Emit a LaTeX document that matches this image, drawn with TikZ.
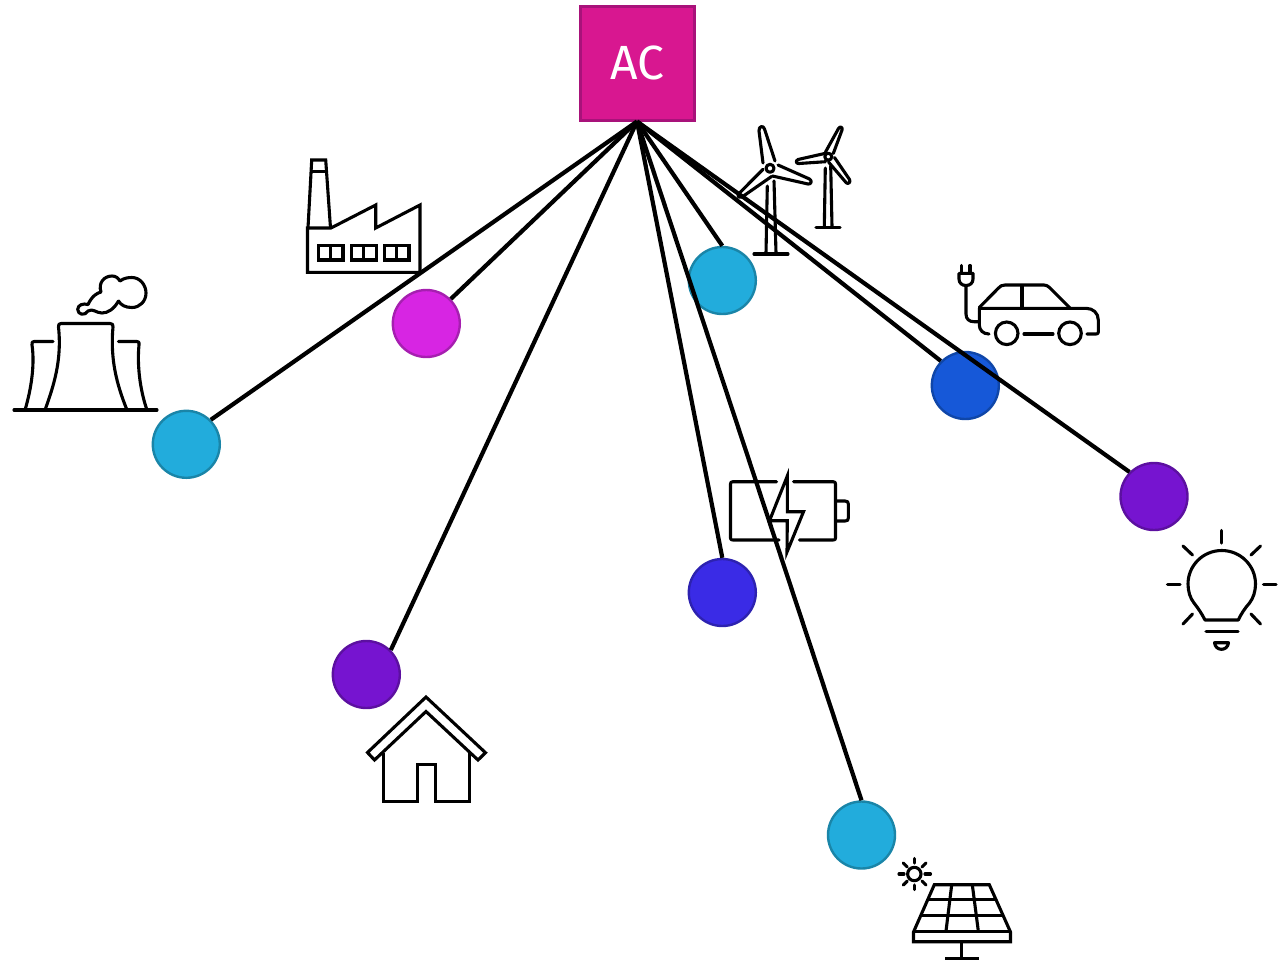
\documentclass[tikz,border=0pt]{standalone}
\usepackage{fontspec}
\setmainfont{Fira Sans}
\definecolor{cyanf}{HTML}{22ACDC}\definecolor{cyand}{HTML}{1A85A8}
\definecolor{magf}{HTML}{D725E3}\definecolor{magd}{HTML}{A61FB0}
\definecolor{bluef}{HTML}{1658D8}\definecolor{blued}{HTML}{0F46A8}
\definecolor{purf}{HTML}{7614D0}\definecolor{purd}{HTML}{5C10A0}
\definecolor{indf}{HTML}{3A2BE6}\definecolor{indd}{HTML}{2D22B0}
\definecolor{acf}{HTML}{D81790}\definecolor{acd}{HTML}{A8127A}
\tikzset{
 icon/.style={draw=black,line width=3.1pt,line join=round,line cap=round,fill=none},
 iconm/.style={draw=black,line width=3.1pt,line join=miter,line cap=butt,fill=none},
 link/.style={draw=black,line width=4.2pt},
 dot/.style={circle,minimum size=67pt,inner sep=0pt,line width=2.4pt},
 acbox/.style={rectangle,minimum size=114pt,inner sep=0pt,line width=3pt,fill=acf,draw=acd,text=white,font=\fontsize{48}{48}\selectfont}
}
\begin{document}
\begin{tikzpicture}[x=1pt,y=-1pt]
\useasboundingbox (0,0) rectangle (1281,962);
% cooling towers
\draw[icon] (14,410) -- (157,410);
\draw[icon] (45,410) .. controls (54,385) and (62,360) .. (58.5,327) .. controls (58.3,324.5) and (59,323.5) .. (61,323.5) -- (110,323.5) .. controls (112.5,323.5) and (113.2,324.5) .. (113,327) .. controls (110,360) and (117,385) .. (127,410);
\draw[icon] (25,410) .. controls (31,390) and (35,365) .. (32,345) .. controls (31.7,342.5) and (32,341.5) .. (34,341.5) -- (53,341.5);
\draw[icon] (118.5,341.5) -- (137,341.5) .. controls (139,341.5) and (139.5,342.5) .. (139,345) .. controls (137,365) and (140,390) .. (147,410);
\draw[icon] (88,304.5) .. controls (92,296) and (97,293) .. (101,292) .. controls (98,283) and (104,276) .. (112,276) .. controls (116,276) and (118,278) .. (120,281) .. controls (124,278) and (128,277.5) .. (132,277.5) .. controls (140,277.5) and (146,285) .. (146,293) .. controls (146,301) and (140,307.5) .. (132,307.5) .. controls (125,307.5) and (121,305) .. (118.5,301);
\draw[icon] (118.5,301) .. controls (114,309) and (108,313) .. (102,313) .. controls (96,313) and (93,308) .. (88,311) .. controls (85,316) and (78,315) .. (77.7,309.5) .. controls (77.7,305) and (83,303) .. (88,304.5);
% factory
\draw[iconm] (307.5,272.3) -- (420,272.3) -- (420,205) -- (375.7,228) -- (375.7,205) -- (331,228) -- (307.5,228) -- cycle;
\draw[iconm] (308,228) -- (311.7,160) -- (325.7,160) -- (330.5,228);
\draw[iconm] (311,171.7) -- (326.5,171.7);
\foreach \wx in {318.5,351.7,384.5}{
 \draw[iconm] (\wx,245.5) rectangle ++(24.5,14.5);
 \draw[iconm] (\wx+12.2,245.5) -- ++(0,14.5);
}
% big turbine
\draw[icon] (770,168.3) circle[radius=4];
\draw[icon] (763,163) -- (759,131) .. controls (758.5,126) and (763.5,125) .. (764.5,129) -- (775,161);
\draw[icon] (778,165) -- (809.5,179) .. controls (812.5,181) and (811,184.5) .. (808,184) -- (772.5,176);
\draw[icon] (763,169.3) -- (738.5,194) .. controls (737,197) and (740,198.5) .. (742,197) -- (771.5,176.5);
\draw[icon] (767.3,186) -- (766,253);
\draw[icon] (774,181) -- (776,253);
\draw[icon] (754,254) -- (788,254);
% small turbine
\draw[icon] (828.3,156.7) circle[radius=3.5];
\draw[icon] (825.5,152) -- (838.5,128.5) .. controls (840,126) and (843,127) .. (842,130) -- (833.3,153.5);
\draw[icon] (825.5,153.3) -- (798,159.5) .. controls (795,161) and (796.5,164) .. (799,163.5) -- (825.5,161.7);
\draw[icon] (834.5,157.5) -- (849.5,179.5) .. controls (851,182) and (848,185) .. (846,182.5) -- (828.5,162);
\draw[icon] (825.3,168) -- (824.3,226.5);
\draw[icon] (830.7,166) -- (832,226.5);
\draw[icon] (816,227.3) -- (840,227.3);
% car
\draw[icon] (961.7,265.5) -- (961.7,273.3);
\draw[icon] (970,265.5) -- (970,273.3);
\draw[icon] (959,273.3) -- (973,273.3) -- (973,279) .. controls (973,283) and (970,285.5) .. (966,285.5) .. controls (962,285.5) and (959,283) .. (959,279) -- cycle;
\draw[icon] (966,285.5) -- (966,314) .. controls (966,319) and (969,321.7) .. (974,321.7) -- (979.3,321.7);
\draw[icon] (989,334) .. controls (983,334) and (979.3,330) .. (979.3,325) -- (979.3,308.3) -- (1086,308.3) .. controls (1093,308.3) and (1098.3,313) .. (1098.3,320) -- (1098.3,332) .. controls (1098.3,333.5) and (1097.5,334) .. (1096,334) -- (1087,334);
\draw[icon] (1024,334) -- (1053,334);
\draw[icon] (1006.7,333.3) circle[radius=11.3];
\draw[icon] (1070,333.3) circle[radius=11.3];
\draw[icon] (979.3,307.5) -- (998,288.5) .. controls (1000,286) and (1002,285) .. (1005,285) -- (1044,285) .. controls (1046,285) and (1048,286) .. (1049.5,287.5) -- (1070,308);
\draw[icon] (1022,285.5) -- (1022,308);
% battery
\draw[icon] (776.5,481.7) -- (733,481.7) .. controls (731,481.7) and (730.5,482.5) .. (730.5,484) -- (730.5,538) .. controls (730.5,539.5) and (731,540) .. (733,540) -- (779,540);
\draw[icon] (793.5,481.7) -- (833,481.7) .. controls (835,481.7) and (835.5,482.5) .. (835.5,484) -- (835.5,538) .. controls (835.5,539.5) and (835,540) .. (833,540) -- (799.5,540);
\draw[icon] (836.7,501) -- (845,501) .. controls (847.5,501) and (848.3,502) .. (848.3,504) -- (848.3,518) .. controls (848.3,520) and (847.5,521) .. (845,521) -- (836.7,521);
\draw[iconm] (787.3,476) -- (787.3,511.7) -- (803.5,511.7) -- (787,552) -- (787.3,520.7) -- (769.5,520.7) -- cycle;
% bulb
\draw[icon] (1194,603) .. controls (1190,598) and (1188,591) .. (1188,584) .. controls (1188,565.4) and (1203.1,550.5) .. (1221.7,550.5) .. controls (1240.3,550.5) and (1255.5,565.4) .. (1255.5,584) .. controls (1255.5,591) and (1253.4,598) .. (1249.5,603) .. controls (1245,608) and (1241,614) .. (1238.3,620) -- (1205,620) .. controls (1202,614) and (1198,608) .. (1194,603) -- cycle;
\draw[icon] (1221.7,530.5) -- (1221.7,543);
\draw[icon] (1167.5,584.3) -- (1180,584.3);
\draw[icon] (1263.5,584.3) -- (1276,584.3);
\draw[icon] (1183,546) -- (1192.5,555);
\draw[icon] (1260.5,546) -- (1251,555);
\draw[icon] (1183,624) -- (1192.5,614);
\draw[icon] (1260.5,624) -- (1251,614);
\draw[icon] (1206,631.7) -- (1238,631.7);
\draw[icon] (1214.5,642.7) -- (1228.5,642.7) .. controls (1228,647) and (1225,649.3) .. (1221.5,649.3) .. controls (1218,649.3) and (1215,647) .. (1214.5,642.7) -- cycle;
% solar
\draw[icon] (914.3,874) circle[radius=6.7];
\draw[icon] (914.3,858.5) -- (914.3,863);
\draw[icon] (914.3,885) -- (914.3,889.5);
\draw[icon] (899,874) -- (904,874);
\draw[icon] (925,874) -- (930.5,874);
\draw[icon] (903.3,863) -- (907.3,867);
\draw[icon] (926,863) -- (922,867);
\draw[icon] (903.3,885) -- (907.3,881);
\draw[icon] (926,885) -- (922,881);
\draw[iconm] (934.3,884.7) -- (989.3,884.7) -- (1010.5,932) -- (1010.5,941.7) -- (913.5,941.7) -- (913.5,932) -- cycle;
\draw[iconm] (913.5,931.5) -- (1010.5,931.5);
\draw[iconm] (927.7,899.3) -- (996,899.3);
\draw[iconm] (920.7,915.7) -- (1003.3,915.7);
\draw[iconm] (951.7,884.7) -- (946,931);
\draw[iconm] (972.3,884.7) -- (978.3,931);
\draw[iconm] (961.7,941.7) -- (961.7,958.5);
\draw[iconm] (945,958.5) -- (979.3,958.5);
% house
\draw[iconm] (426,697) -- (485.5,752.7) -- (478,760) -- (426,711.5) -- (374.5,760) -- (367.5,752.5) -- cycle;
\draw[iconm] (383.5,753) -- (383.5,801.5) -- (417.7,801.5) -- (417.7,764.5) -- (435.5,764.5) -- (435.5,801.5) -- (469.5,801.5) -- (469.5,752);
% hub and nodes
\node[acbox] (ac) at (637,63) {AC};
\node[dot,fill=cyanf,draw=cyand] (n1) at (186.3,444.3) {};
\node[dot,fill=magf,draw=magd] (n2) at (426.3,323.5) {};
\node[dot,fill=cyanf,draw=cyand] (n3) at (722.3,280.5) {};
\node[dot,fill=bluef,draw=blued] (n4) at (965.3,385.5) {};
\node[dot,fill=purf,draw=purd] (n5) at (1154,496.5) {};
\node[dot,fill=purf,draw=purd] (n6) at (366.3,674.5) {};
\node[dot,fill=indf,draw=indd] (n7) at (722.3,592.5) {};
\node[dot,fill=cyanf,draw=cyand] (n8) at (861.5,835) {};
\foreach \t/\a in {n1/north east,n2/north east,n3/north,n4/north west,n5/north west,n6/north east,n7/north,n8/north}{
 \draw[link] (ac.south) -- (\t.\a);
}
\end{tikzpicture}
\end{document}
